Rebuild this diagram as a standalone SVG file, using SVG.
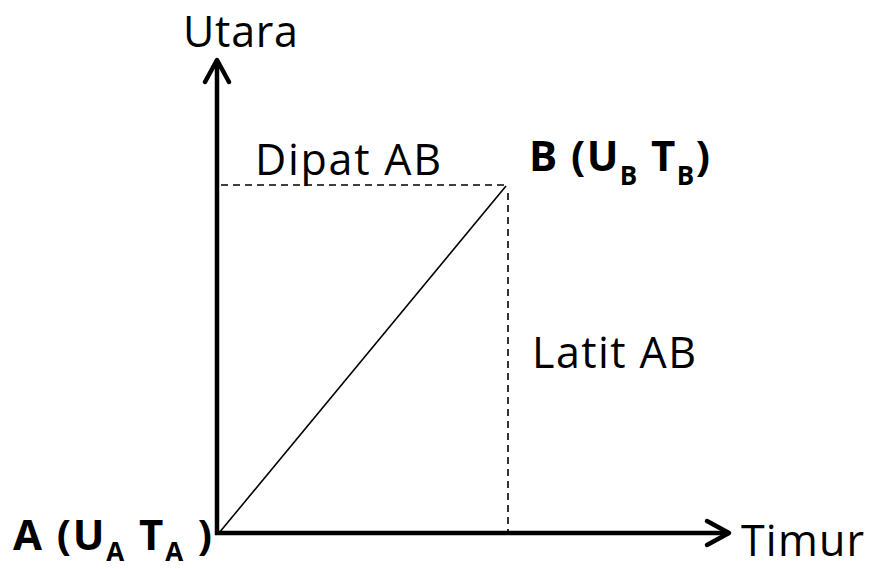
<svg xmlns="http://www.w3.org/2000/svg" width="875" height="569" viewBox="0 0 875 569">
<style>
text{font-family:"Open Sans",Lato,"Liberation Sans",sans-serif;fill:#000;font-size:43px}
.b{font-weight:bold;font-size:42px}
.ax{stroke:#000;stroke-width:4.5;fill:none}
.hd{stroke:#000;stroke-width:4.5;fill:none;stroke-linecap:round;stroke-linejoin:round}
.d{stroke:#000;stroke-width:1.6;stroke-dasharray:7,5;fill:none}
.s{font-size:26px}
</style>
<rect width="875" height="569" fill="#fff"/>
<g id="connectors">
<polyline class="ax" points="217,60 217,533 729,533"/>
<polyline class="hd" points="205,82 217,60 229,82"/>
<polyline class="hd" points="707,521 729,533 707,545"/>
<line x1="219" y1="533" x2="506" y2="186" stroke="#000" stroke-width="1.6"/>
<line class="d" x1="221" y1="185" x2="505" y2="185"/>
<line class="d" x1="508" y1="193" x2="508" y2="531"/>
</g>
<g id="utara"><text x="183" y="47" textLength="115">Utara</text></g>
<g id="timur"><text x="741" y="556" textLength="123">Timur</text></g>
<g id="dipat"><text x="255" y="175" textLength="186">Dipat AB</text></g>
<g id="latit"><text x="532" y="368" textLength="164">Latit AB</text></g>
<g id="B"><text class="b" x="529" y="171" textLength="181">B (U<tspan class="s" dy="14">B</tspan><tspan dy="-14"> T</tspan><tspan class="s" dy="14">B</tspan><tspan dy="-14">)</tspan></text></g>
<g id="A"><text class="b" x="13" y="550" textLength="199">A (U<tspan class="s" dy="11">A</tspan><tspan dy="-11"> T</tspan><tspan class="s" dy="11">A</tspan><tspan dy="-11"> )</tspan></text></g>
</svg>
